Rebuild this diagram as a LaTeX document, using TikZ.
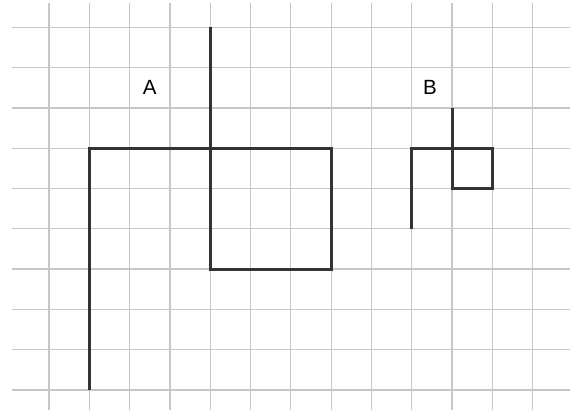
\documentclass[tikz,border=0pt]{standalone}
\usepackage{fontspec}
\setmainfont{Liberation Sans}
\usetikzlibrary{positioning}
\tikzset{%
     gridline/.style = { black!22, line width=0.9pt },
      figline/.style = { black!80, line width=2.1pt },
       letter/.style = { font=\fontsize{14.5}{17}\selectfont, inner sep=0pt }
}

\begin{document}
\begin{tikzpicture}[line join=miter,x=1cm,y=1cm]
\useasboundingbox (-1.216,-0.496) rectangle (13.1,9.677);
% squared paper
\foreach \i in {0,...,12} \draw[gridline] (\i,-0.5) -- (\i,9.6);
\foreach \j in {0,...,9} \draw[gridline] (-0.92,\j) -- (12.92,\j);
% figure A
\coordinate (A0) at (1,0);
\coordinate (A1) at (1,6);
\coordinate (A2) at (7,6);
\coordinate (A3) at (7,3);
\coordinate (A4) at (4,3);
\coordinate (A5) at (4,9);
\draw[figline] (A0) -- (A1) -- (A2) -- (A3) -- (A4) -- (A5);
\node[letter] (labA) at (2.5,7.5) {A};
% figure B
\coordinate (B0) at (9,4);
\coordinate (B1) at (9,6);
\coordinate (B2) at (11,6);
\coordinate (B3) at (11,5);
\coordinate (B4) at (10,5);
\coordinate (B5) at (10,7);
\draw[figline] (B0) -- (B1) -- (B2) -- (B3) -- (B4) -- (B5);
\node[letter] (labB) at (9.45,7.5) {B};
\end{tikzpicture}
\end{document}
